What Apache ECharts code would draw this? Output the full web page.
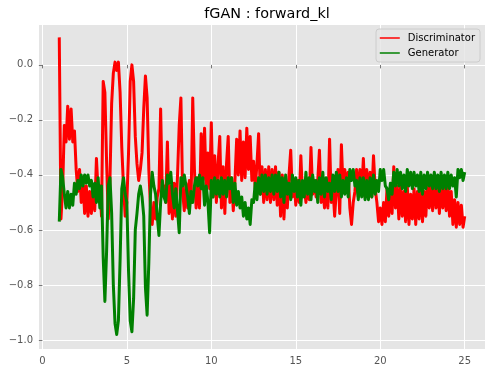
<!DOCTYPE html>
<html>
<head>
<meta charset="utf-8">
<script src="https://cdn.jsdelivr.net/npm/echarts@6/dist/echarts.min.js"></script>
<style>
html,body{margin:0;padding:0;background:#fff;}
#chart{width:495px;height:374px;}
</style>
</head>
<body>
<div id="chart"></div>
<script>
// Sample positions: every 0.1 from 1.0 to 25.0
const tStart = 1.0;
const tStep = 0.1;

const discriminator = [
  0.10,-0.56,-0.45,-0.22,-0.28,-0.15,-0.27,-0.16,-0.28,-0.24,
  -0.38,-0.46,-0.38,-0.50,-0.42,-0.54,-0.44,-0.55,-0.46,-0.54,
  -0.44,-0.53,-0.34,-0.46,-0.44,-0.55,-0.06,-0.10,-0.35,-0.56,
  -0.42,-0.14,-0.03,0.01,-0.02,0.01,-0.10,-0.30,-0.44,-0.55,
  -0.50,-0.32,-0.06,0.00,-0.06,-0.26,-0.36,-0.42,-0.38,-0.32,
  -0.16,-0.04,-0.12,-0.38,-0.52,-0.58,-0.50,-0.56,-0.48,-0.45,
  -0.16,-0.47,-0.44,-0.50,-0.28,-0.54,-0.44,-0.56,-0.43,-0.55,
  -0.40,-0.22,-0.12,-0.46,-0.53,-0.43,-0.52,-0.42,-0.50,-0.12,
  -0.38,-0.52,-0.41,-0.52,-0.25,-0.42,-0.23,-0.45,-0.32,-0.45,
  -0.21,-0.48,-0.33,-0.50,-0.36,-0.26,-0.52,-0.37,-0.54,-0.36,
  -0.26,-0.50,-0.41,-0.53,-0.42,-0.27,-0.40,-0.24,-0.42,-0.28,
  -0.41,-0.23,-0.38,-0.26,-0.42,-0.35,-0.45,-0.36,-0.25,-0.47,
  -0.37,-0.50,-0.38,-0.49,-0.37,-0.50,-0.38,-0.49,-0.37,-0.51,
  -0.39,-0.55,-0.40,-0.56,-0.42,-0.52,-0.40,-0.31,-0.48,-0.42,
  -0.51,-0.42,-0.50,-0.33,-0.48,-0.44,-0.50,-0.44,-0.49,-0.30,
  -0.47,-0.42,-0.48,-0.42,-0.31,-0.50,-0.45,-0.52,-0.45,-0.52,
  -0.27,-0.50,-0.45,-0.55,-0.46,-0.38,-0.54,-0.29,-0.45,-0.38,
  -0.45,-0.39,-0.52,-0.58,-0.50,-0.46,-0.38,-0.48,-0.38,-0.47,
  -0.34,-0.48,-0.38,-0.47,-0.39,-0.48,-0.33,-0.45,-0.50,-0.57,
  -0.52,-0.58,-0.50,-0.57,-0.45,-0.55,-0.46,-0.54,-0.37,-0.52,
  -0.44,-0.56,-0.44,-0.55,-0.46,-0.57,-0.44,-0.58,-0.47,-0.56,
  -0.45,-0.58,-0.46,-0.56,-0.44,-0.57,-0.46,-0.55,-0.42,-0.52,
  -0.44,-0.53,-0.40,-0.52,-0.43,-0.54,-0.42,-0.52,-0.44,-0.53,
  -0.43,-0.55,-0.46,-0.58,-0.49,-0.59,-0.50,-0.58,-0.51,-0.59,
  -0.55
];

const generator = [
  -0.57,-0.38,-0.41,-0.47,-0.52,-0.46,-0.52,-0.47,-0.51,-0.43,
  -0.47,-0.42,-0.45,-0.40,-0.44,-0.40,-0.43,-0.40,-0.44,-0.42,
  -0.48,-0.43,-0.50,-0.41,-0.52,-0.44,-0.70,-0.86,-0.68,-0.44,
  -0.41,-0.54,-0.80,-0.94,-0.98,-0.93,-0.71,-0.45,-0.41,-0.47,
  -0.50,-0.75,-0.93,-0.97,-0.85,-0.60,-0.54,-0.47,-0.44,-0.48,
  -0.55,-0.81,-0.91,-0.72,-0.47,-0.39,-0.44,-0.47,-0.55,-0.62,
  -0.50,-0.42,-0.48,-0.50,-0.40,-0.43,-0.39,-0.47,-0.52,-0.45,
  -0.53,-0.61,-0.41,-0.44,-0.40,-0.44,-0.48,-0.54,-0.46,-0.50,
  -0.44,-0.41,-0.44,-0.40,-0.45,-0.41,-0.51,-0.44,-0.50,-0.61,
  -0.42,-0.48,-0.41,-0.47,-0.42,-0.48,-0.41,-0.47,-0.42,-0.48,
  -0.41,-0.45,-0.41,-0.50,-0.43,-0.51,-0.46,-0.52,-0.48,-0.55,
  -0.50,-0.56,-0.52,-0.58,-0.49,-0.50,-0.43,-0.49,-0.41,-0.47,
  -0.40,-0.46,-0.40,-0.47,-0.41,-0.46,-0.40,-0.47,-0.40,-0.46,
  -0.39,-0.48,-0.41,-0.50,-0.40,-0.47,-0.43,-0.49,-0.40,-0.46,
  -0.41,-0.48,-0.42,-0.51,-0.42,-0.48,-0.39,-0.47,-0.41,-0.49,
  -0.40,-0.46,-0.42,-0.50,-0.41,-0.47,-0.39,-0.48,-0.41,-0.46,
  -0.43,-0.49,-0.40,-0.46,-0.39,-0.46,-0.40,-0.48,-0.42,-0.47,
  -0.41,-0.48,-0.38,-0.42,-0.38,-0.44,-0.42,-0.49,-0.41,-0.48,
  -0.41,-0.49,-0.42,-0.49,-0.41,-0.48,-0.40,-0.47,-0.42,-0.46,
  -0.38,-0.42,-0.38,-0.44,-0.45,-0.49,-0.43,-0.47,-0.39,-0.44,
  -0.38,-0.44,-0.39,-0.45,-0.40,-0.46,-0.38,-0.44,-0.39,-0.45,
  -0.39,-0.44,-0.40,-0.46,-0.39,-0.47,-0.40,-0.45,-0.39,-0.44,
  -0.40,-0.45,-0.39,-0.45,-0.40,-0.46,-0.39,-0.45,-0.40,-0.45,
  -0.39,-0.45,-0.40,-0.44,-0.41,-0.48,-0.38,-0.41,-0.38,-0.42,
  -0.39
];

const xTicks = [0, 5, 10, 15, 20, 25];
const yTicks = [-1.0, -0.8, -0.6, -0.4, -0.2, 0.0];

function pairs(vals) {
  return vals.map((v, i) => [+(tStart + i * tStep).toFixed(2), v]);
}

const FONT = 'DejaVu Sans';
const chart = echarts.init(document.getElementById('chart'), null, {renderer: 'canvas'});
chart.setOption({
  animation: false,
  backgroundColor: '#ffffff',
  title: {
    text: 'fGAN : forward_kl',
    left: 262, textAlign: 'center', top: 2,
    textStyle: {fontFamily: FONT, fontSize: 14.4, fontWeight: 'normal', color: '#000'}
  },
  legend: {
    orient: 'vertical',
    right: 15, top: 29,
    padding: [4, 5, 4, 3],
    itemWidth: 20, itemHeight: 10, itemGap: 5,
    backgroundColor: 'rgba(229,229,229,0.8)',
    borderColor: '#cccccc', borderWidth: 1, borderRadius: 3,
    itemStyle: {color: 'transparent', borderWidth: 0, opacity: 0},
    lineStyle: {width: 1.5},
    textStyle: {fontFamily: FONT, fontSize: 10, color: '#000', padding: [0, 0, 0, 3]},
    data: ['Discriminator', 'Generator']
  },
  grid: {
    left: 39, right: 10, top: 25, bottom: 25,
    show: true, backgroundColor: '#E5E5E5', borderWidth: 0
  },
  xAxis: {
    type: 'value', min: -0.2, max: 26.2,
    axisLine: {show: false},
    axisTick: {show: true, length: 3.5, customValues: xTicks, lineStyle: {color: '#555555', width: 0.8}},
    axisLabel: {customValues: xTicks, color: '#555555', fontFamily: FONT, fontSize: 10, margin: 7},
    splitLine: {show: true, lineStyle: {color: '#ffffff', width: 1}}
  },
  yAxis: {
    type: 'value', min: -1.033, max: 0.145,
    axisLine: {show: false},
    axisTick: {show: true, length: 3.5, customValues: yTicks, lineStyle: {color: '#555555', width: 0.8}},
    axisLabel: {
      customValues: yTicks, color: '#555555', fontFamily: FONT, fontSize: 10, margin: 6,
      formatter: v => v.toFixed(1).replace('-', '\u2212')
    },
    splitLine: {show: true, lineStyle: {color: '#ffffff', width: 1}}
  },
  series: [
    {
      name: 'Discriminator', type: 'line', data: pairs(discriminator),
      symbol: 'none', lineStyle: {color: '#ff0000', width: 3, join: 'round'}, itemStyle: {color: '#ff0000'},
      z: 2
    },
    {
      name: 'Generator', type: 'line', data: pairs(generator),
      symbol: 'none', lineStyle: {color: '#008000', width: 3, join: 'round'}, itemStyle: {color: '#008000'},
      z: 3
    }
  ]
});
</script>
</body>
</html>
